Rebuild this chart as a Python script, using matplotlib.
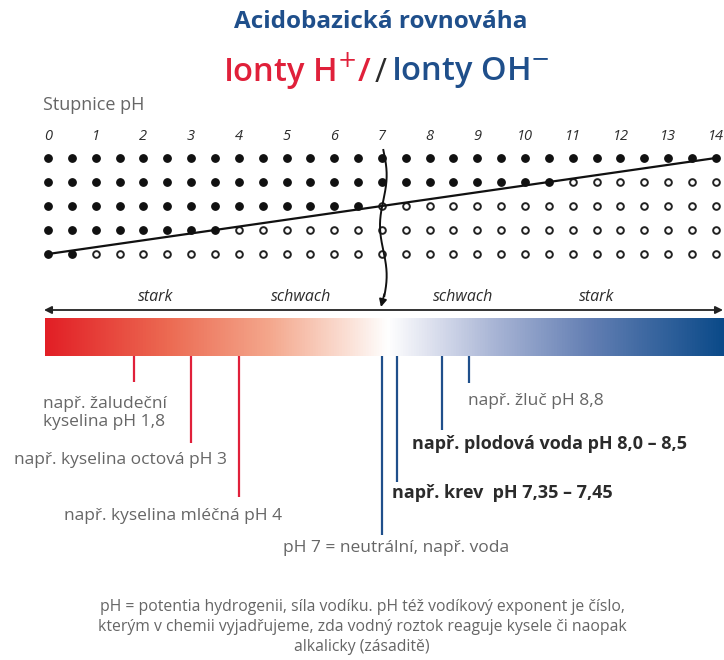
import matplotlib
matplotlib.use('Agg')
import matplotlib.pyplot as plt
import numpy as np
from matplotlib.colors import LinearSegmentedColormap

plt.rcParams['font.family'] = ['Open Sans', 'DejaVu Sans']

# ---------------- data ----------------
title = "Acidobazická rovnováha"
scale_label = "Stupnice pH"
ph_ticks = list(range(0, 15))
ph_grid = [i * 0.5 for i in range(29)]
filled_counts = [29, 22, 14, 8, 2]          # filled dots per row (top -> bottom)
strength_labels = ["stark", "schwach", "schwach", "stark"]
strength_ph = [2.25, 5.3, 8.7, 11.5]

example_ph = [1.8, 3.0, 4.0, 7.0, 7.32, 8.25, 8.83]
example_labels = [
    "např. žaludeční\nkyselina pH 1,8",
    "např. kyselina octová pH 3",
    "např. kyselina mléčná pH 4",
    "pH 7 = neutrální, např. voda",
    "např. krev  pH 7,35 – 7,45",
    "např. plodová voda pH 8,0 – 8,5",
    "např. žluč pH 8,8",
]
example_bold = [False, False, False, False, True, True, False]
footnote = ("pH = potentia hydrogenii, síla vodíku. pH též vodíkový exponent je číslo,\n"
            "kterým v chemii vyjadřujeme, zda vodný roztok reaguje kysele či naopak\n"
            "alkalicky (zásaditě)")

# ---------------- layout ----------------
W, H = 724, 660
X0, PX = 48.0, 47.7           # pixel of pH 0, pixels per pH unit
def px2ph(px):
    return (px - X0) / PX

RED = '#e0203a'
BLUE = '#1f4f8b'
GRAY = '#666666'
DARK = '#2b2b2b'

fig = plt.figure(figsize=(W / 100, H / 100), dpi=100)
ax = fig.add_axes([0, 0, 1, 1])
ax.set_xlim(px2ph(0), px2ph(W))
ax.set_ylim(H, 0)
ax.axis('off')

# titles
ax.text(px2ph(381), 22, title, ha='center', va='center', fontsize=17.5,
        fontweight='bold', color=BLUE)
ax.text(px2ph(372), 72, "Ionty H$^{+}$/", ha='right', va='center', fontsize=23.5,
        fontweight='semibold', color=RED)
ax.text(px2ph(381), 74, "/", ha='center', va='center', fontsize=23.5, color=DARK)
ax.text(px2ph(391), 72, "Ionty OH$^{-}$", ha='left', va='center', fontsize=23.5,
        fontweight='semibold', color=BLUE)

# scale label and ticks
ax.text(px2ph(43), 105, scale_label, ha='left', va='center', fontsize=13, color=GRAY)
for t in ph_ticks:
    ax.text(t, 136, str(t), ha='center', va='center', fontsize=10.5,
            style='italic', color=DARK)

# dot grid
row_y0, row_dy = 158, 24
row_y = [row_y0 + row_dy * r for r in range(len(filled_counts))]
grid = np.array(ph_grid)
for r, n in enumerate(filled_counts):
    y = np.full(len(grid), row_y[r])
    ax.plot(grid[:n], y[:n], 'o', ms=5.3, mfc='#111111', mec='#111111', lw=0)
    ax.plot(grid[n:], y[n:], 'o', ms=4.8, mfc='white', mec='#222222', mew=1.4, lw=0)

# trend line
ax.plot([grid[0], grid[-1]], [row_y[-1], row_y[0]], color='#111111', lw=1.6)

# wavy line at pH 7
yy = np.linspace(150, 296, 200)
xx = 7.0 + 0.07 * np.sin((yy - 150) / 16.0) + 0.03
ax.plot(xx, yy, color='#111111', lw=1.4)
ax.annotate('', xy=(6.98, 307), xytext=(xx[-1], 294),
            arrowprops=dict(arrowstyle='-|>', color='#111111', lw=1.3,
                            mutation_scale=11, shrinkA=0, shrinkB=0))

# strength labels
for lab, p in zip(strength_labels, strength_ph):
    ax.text(p, 297, lab, ha='center', va='center', fontsize=11.5, style='italic',
            color=DARK)

# double arrow
ax.annotate('', xy=(px2ph(44), 310), xytext=(px2ph(723), 310),
            arrowprops=dict(arrowstyle='<|-|>', color='#222222', lw=1.3,
                            mutation_scale=11, shrinkA=0, shrinkB=0))

# gradient bar
cmap = LinearSegmentedColormap.from_list('ph', [
    (0.00, '#e21f26'), (0.18, '#ec6a52'), (0.33, '#f4a78c'), (0.45, '#fbe2d8'),
    (0.505, '#ffffff'), (0.56, '#e2e5f1'), (0.66, '#aab6d6'), (0.80, '#6580b4'),
    (1.00, '#0b4a89')])
bar_top, bar_bot = 318, 356
ax.imshow(np.linspace(0, 1, 512)[None, :], cmap=cmap, aspect='auto',
          extent=(px2ph(45), px2ph(724), bar_bot, bar_top), zorder=1)

# example markers and labels
line_bottom = [382, 443, 497, 535, 482, 430, 383]
label_pos = [(43, 413, 'left'), (227, 460, 'right'), (173, 516, 'center'),
             (396, 548, 'center'), (392, 493, 'left'), (412, 444, 'left'),
             (468, 401, 'left')]
for p, lab, b, bot, (lx, ly, ha) in zip(example_ph, example_labels, example_bold,
                                       line_bottom, label_pos):
    col = RED if p < 7 else BLUE
    ax.plot([p, p], [bar_bot, bot], color=col, lw=1.6, solid_capstyle='butt')
    ax.text(px2ph(lx), ly, lab, ha=ha, va='center', fontsize=13 if b else 12.5,
            fontweight='bold' if b else 'normal', color=DARK if b else GRAY,
            linespacing=1.2)

# footnote
ax.text(px2ph(362), 627, footnote, ha='center', va='center', fontsize=11.3,
        color=GRAY, linespacing=1.35)

fig.savefig('out.png', dpi=100)
